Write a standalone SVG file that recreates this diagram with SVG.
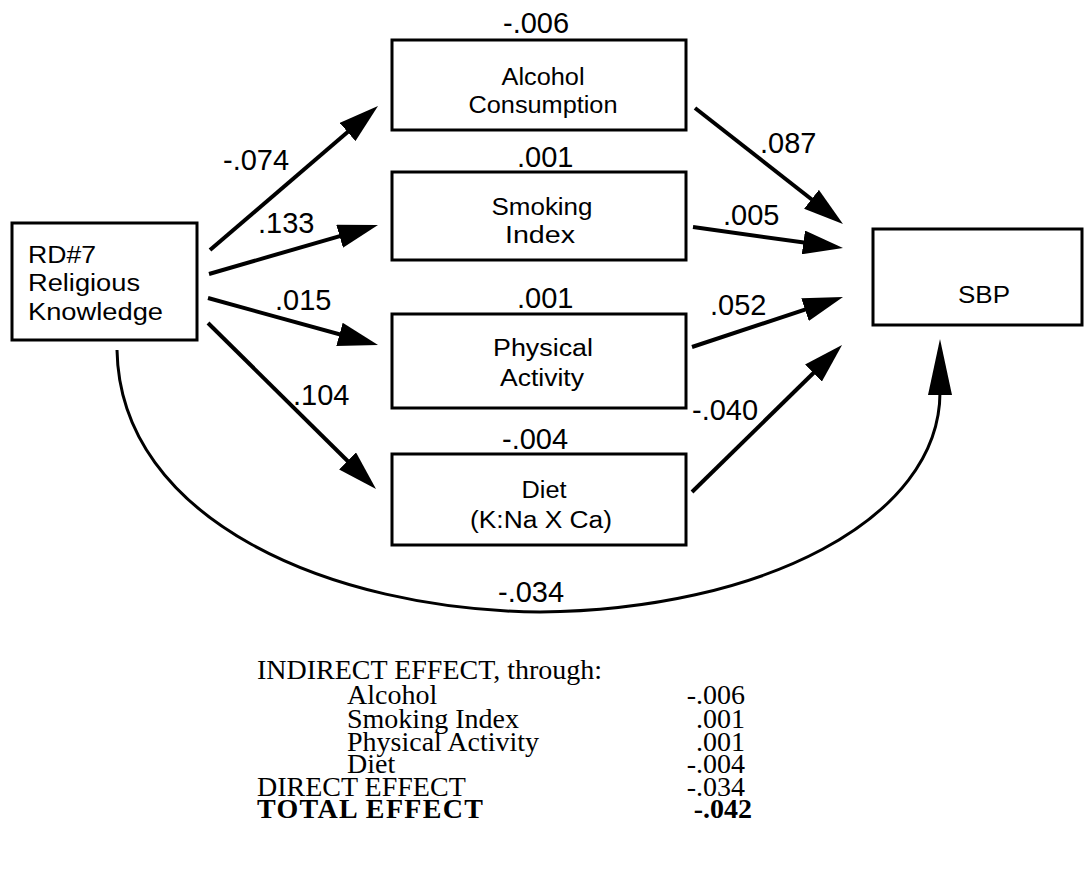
<svg xmlns="http://www.w3.org/2000/svg" width="1085" height="871" viewBox="0 0 1085 871">
  <style>
    .box { fill: #fff; stroke: #000; stroke-width: 3; }
    .node { font-family: "Liberation Sans", Arial, sans-serif; font-size: 23px; fill: #000; }
    .mid { text-anchor: middle; }
    .coef { font-family: "Liberation Sans", Arial, sans-serif; font-size: 29px; fill: #000; }
    .path { fill: none; stroke: #000; stroke-width: 4; }
    .direct { fill: none; stroke: #000; stroke-width: 3; }
    .table { font-family: "Liberation Serif", "Times New Roman", serif; font-size: 28px; fill: #000; }
    .num { text-anchor: end; }
    .bold { font-weight: bold; }
  </style>
  <defs>
    <marker id="head" markerUnits="userSpaceOnUse" viewBox="0 0 40 24" markerWidth="40" markerHeight="24" refX="30" refY="12" orient="auto">
      <path d="M0,0 L40,12 L0,24 Z" fill="#000"/>
    </marker>
    <marker id="headLong" markerUnits="userSpaceOnUse" viewBox="0 0 56 24" markerWidth="56" markerHeight="24" refX="3" refY="12" orient="auto">
      <path d="M0,0 L56,12 L0,24 Z" fill="#000"/>
    </marker>
  </defs>

  <rect width="1085" height="871" fill="#fff"/>

  <!-- connectors -->
  <g id="connectors">
    <line class="path" x1="210" y1="250" x2="370.4" y2="112.5" marker-end="url(#head)"/>
    <line class="path" x1="209" y1="274" x2="368.4" y2="227.8" marker-end="url(#head)"/>
    <line class="path" x1="208" y1="298" x2="368.4" y2="342.3" marker-end="url(#head)"/>
    <line class="path" x1="208" y1="323" x2="368.9" y2="482" marker-end="url(#head)"/>
    <line class="path" x1="695" y1="108" x2="835.1" y2="217.8" marker-end="url(#head)"/>
    <line class="path" x1="693" y1="227" x2="833.1" y2="246.6" marker-end="url(#head)"/>
    <line class="path" x1="692" y1="347" x2="833.5" y2="300.1" marker-end="url(#head)"/>
    <line class="path" x1="692" y1="492" x2="834.9" y2="352" marker-end="url(#head)"/>
    <path class="direct" d="M117,350 C120,520 330,610 540,612 C760,610 940,520 940,392" marker-end="url(#headLong)"/>
  </g>

  <!-- path coefficients -->
  <g id="coefficients" class="coef">
    <text x="223" y="170">-.074</text>
    <text x="258" y="233">.133</text>
    <text x="275" y="310">.015</text>
    <text x="293" y="405">.104</text>
    <text x="760" y="153">.087</text>
    <text x="723" y="225">.005</text>
    <text x="710" y="315">.052</text>
    <text x="692" y="420">-.040</text>
    <text x="498" y="602">-.034</text>
  </g>

  <g id="rd7">
    <rect class="box" x="12" y="223" width="185" height="117"/>
    <text class="node" x="28" y="263" textLength="68" lengthAdjust="spacingAndGlyphs">RD#7</text>
    <text class="node" x="28" y="291" textLength="112" lengthAdjust="spacingAndGlyphs">Religious</text>
    <text class="node" x="28" y="320" textLength="135" lengthAdjust="spacingAndGlyphs">Knowledge</text>
  </g>

  <g id="alcohol">
    <rect class="box" x="392" y="40" width="294" height="90"/>
    <text class="coef" x="503" y="33">-.006</text>
    <text class="node mid" x="543" y="85" textLength="83" lengthAdjust="spacingAndGlyphs">Alcohol</text>
    <text class="node mid" x="543" y="113" textLength="149" lengthAdjust="spacingAndGlyphs">Consumption</text>
  </g>

  <g id="smoking">
    <rect class="box" x="392" y="172" width="294" height="88"/>
    <text class="coef" x="517" y="167">.001</text>
    <text class="node mid" x="542" y="215" textLength="101" lengthAdjust="spacingAndGlyphs">Smoking</text>
    <text class="node mid" x="540" y="243" textLength="70" lengthAdjust="spacingAndGlyphs">Index</text>
  </g>

  <g id="physical">
    <rect class="box" x="392" y="314" width="294" height="94"/>
    <text class="coef" x="517" y="308">.001</text>
    <text class="node mid" x="543" y="356" textLength="100" lengthAdjust="spacingAndGlyphs">Physical</text>
    <text class="node mid" x="542" y="386" textLength="84" lengthAdjust="spacingAndGlyphs">Activity</text>
  </g>

  <g id="diet">
    <rect class="box" x="392" y="454" width="294" height="91"/>
    <text class="coef" x="502" y="449">-.004</text>
    <text class="node mid" x="544" y="498" textLength="45" lengthAdjust="spacingAndGlyphs">Diet</text>
    <text class="node mid" x="541" y="528" textLength="142" lengthAdjust="spacingAndGlyphs">(K:Na X Ca)</text>
  </g>

  <g id="sbp">
    <rect class="box" x="873" y="229" width="209" height="96"/>
    <text class="node" x="958" y="303" textLength="52" lengthAdjust="spacingAndGlyphs">SBP</text>
  </g>

  <!-- summary of effects -->
  <g id="effects" class="table">
    <text x="257" y="679">INDIRECT EFFECT, through:</text>
    <text x="347" y="704">Alcohol</text>
    <text x="347" y="728">Smoking Index</text>
    <text x="347" y="751">Physical Activity</text>
    <text x="347" y="773">Diet</text>
    <text x="257" y="796">DIRECT EFFECT</text>
    <text class="bold" x="257" y="818" textLength="226" lengthAdjust="spacing">TOTAL EFFECT</text>
    <text class="num" x="745" y="704">-.006</text>
    <text class="num" x="745" y="728">.001</text>
    <text class="num" x="745" y="751">.001</text>
    <text class="num" x="745" y="773">-.004</text>
    <text class="num" x="745" y="796">-.034</text>
    <text class="num bold" x="752" y="818">-.042</text>
  </g>
</svg>
